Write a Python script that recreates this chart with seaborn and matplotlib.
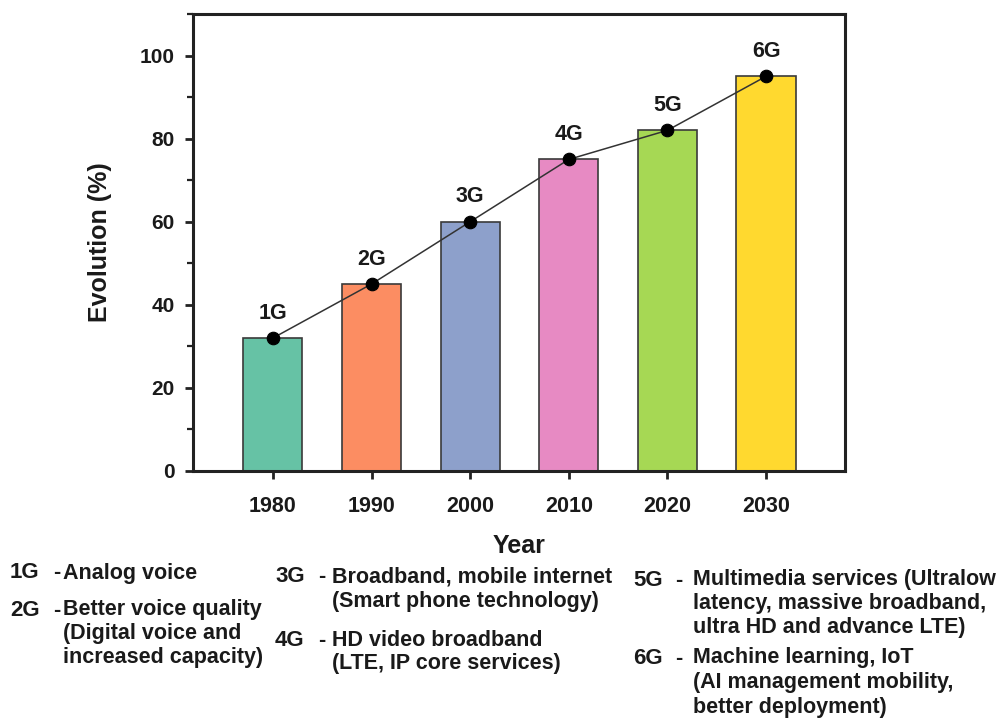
import numpy as np
import pandas as pd
import matplotlib
matplotlib.use("Agg")
import matplotlib.pyplot as plt
from matplotlib.ticker import MultipleLocator
import seaborn as sns

# ---------------- data ----------------
years = ["1980", "1990", "2000", "2010", "2020", "2030"]
evolution = [32, 45, 60, 75, 82, 95]
generations = ["1G", "2G", "3G", "4G", "5G", "6G"]
bar_colors = ["#66c2a5", "#fc8d62", "#8da0cb", "#e78ac3", "#a6d854", "#ffd92f"]

desc_1g = ["Analog voice"]
desc_2g = ["Better voice quality", "(Digital voice and", "increased capacity)"]
desc_3g = ["Broadband, mobile internet", "(Smart phone technology)"]
desc_4g = ["HD video broadband", "(LTE, IP core services)"]
desc_5g = ["Multimedia services (Ultralow", "latency, massive broadband,",
           "ultra HD and advance LTE)"]
desc_6g = ["Machine learning, IoT", "(AI management mobility,",
           "better deployment)"]
descriptions = [desc_1g, desc_2g, desc_3g, desc_4g, desc_5g, desc_6g]

# ---------------- style ----------------
sns.set_theme(style="ticks")
plt.rcParams["font.family"] = ["Liberation Sans", "DejaVu Sans"]
plt.rcParams["font.weight"] = "bold"
plt.rcParams["axes.labelweight"] = "bold"

W, H = 1002, 723
fig = plt.figure(figsize=(W / 100, H / 100), dpi=100)
ax = fig.add_axes([193 / W, 1 - 471 / H, (845 - 193) / W, (471 - 14) / H])

df = pd.DataFrame({"year": years, "value": evolution, "gen": generations})

sns.barplot(data=df, x="year", y="value", hue="year", palette=bar_colors,
            legend=False, width=0.6, edgecolor="#3a3a3a", linewidth=1.2,
            saturation=1, ax=ax)
sns.pointplot(data=df, x="year", y="value", color="#333333", errorbar=None,
              markersize=9, linewidth=1.1, ax=ax)
for ln in ax.lines:
    ln.set_markerfacecolor("black")
    ln.set_markeredgecolor("black")
    ln.set_zorder(5)

for i, (g, v) in enumerate(zip(generations, evolution)):
    ax.annotate(g, (i, v), xytext=(0, 18), textcoords="offset points",
                ha="center", va="center", fontsize=15.5, fontweight="bold",
                color="#1a1a1a")

ax.set_xlim(-0.81, 5.80)
ax.set_ylim(0, 110)
ax.yaxis.set_major_locator(MultipleLocator(20))
ax.yaxis.set_minor_locator(MultipleLocator(10))
ax.set_yticks([0, 20, 40, 60, 80, 100])

for s in ax.spines.values():
    s.set_visible(True)
    s.set_linewidth(2.2)
    s.set_color("#222222")

ax.tick_params(axis="y", which="major", direction="out", length=6, width=2,
               labelsize=15, pad=7, colors="#222222")
ax.tick_params(axis="y", which="minor", direction="out", length=4, width=1.6,
               colors="#222222")
ax.tick_params(axis="x", which="major", direction="out", length=6, width=2,
               labelsize=15.5, pad=12, colors="#222222")
for lab in ax.get_xticklabels() + ax.get_yticklabels():
    lab.set_fontweight("bold")
    lab.set_color("#1a1a1a")

ax.set_ylabel("Evolution (%)", fontsize=18, fontweight="bold", color="#1a1a1a")
ax.set_xlabel("Year", fontsize=18, fontweight="bold", color="#1a1a1a")
ax.yaxis.set_label_coords(-0.124, 0.5)
ax.xaxis.set_label_coords(0.5, -0.138)

# ---------------- description block ----------------
# (code x, dash x, text x, first line y, line step) in pixels
layout = [
    (10, 53, 63, 573, 24),
    (10, 53, 63, 610, 24),
    (275, 318, 332, 577, 25),
    (275, 318, 332, 640, 24),
    (633, 675, 693, 580, 24),
    (633, 675, 693, 658, 24.5),
]
for g, lines, (cx, dx, tx, y0, step) in zip(generations, descriptions, layout):
    fig.text(cx / W, 1 - y0 / H, g, ha="left", va="center", fontsize=16,
             fontweight="bold", color="#1a1a1a")
    fig.text(dx / W, 1 - y0 / H, "-", ha="left", va="center", fontsize=15.5,
             fontweight="bold", color="#1a1a1a")
    for k, line in enumerate(lines):
        fig.text(tx / W, 1 - (y0 + k * step) / H, line, ha="left",
                 va="center", fontsize=15.5, fontweight="bold",
                 color="#1a1a1a")

fig.savefig("out.png", dpi=100)
